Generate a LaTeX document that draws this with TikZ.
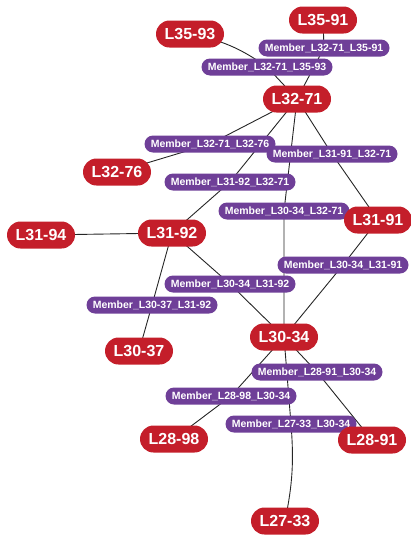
\documentclass[tikz,border=0pt]{standalone}
\usepackage{fontspec}
\setmainfont{Liberation Sans}
\definecolor{nred}{HTML}{C41E2A}
\definecolor{npur}{HTML}{6F3F98}
\pgfdeclarelayer{bg}
\pgfsetlayers{bg,main}
\begin{document}
\begin{tikzpicture}[x=1pt,y=-1pt,
  lnode/.style={fill=nred, text=white, font=\fontsize{16}{16}\selectfont\bfseries,
    rounded corners=13.5pt, minimum width=68pt, minimum height=27pt, inner sep=0pt},
  mnode/.style={fill=npur, text=white, font=\fontsize{10.5}{10.5}\selectfont\bfseries,
    rounded corners=8.5pt, minimum width=131pt, minimum height=17pt, inner sep=0pt},
  conn/.style={draw=black!85, line width=0.9pt}]
\useasboundingbox (0,0) rectangle (411,536);
% member nodes
\node[mnode] (m1) at (324,48) {Member\_L32-71\_L35-91};
\node[mnode] (m2) at (267,67) {Member\_L32-71\_L35-93};
\node[mnode] (m3) at (210,144) {Member\_L32-71\_L32-76};
\node[mnode] (m4) at (332,154) {Member\_L31-91\_L32-71};
\node[mnode] (m5) at (230,182) {Member\_L31-92\_L32-71};
\node[mnode] (m6) at (284,211) {Member\_L30-34\_L32-71};
\node[mnode] (m7) at (343,265) {Member\_L30-34\_L31-91};
\node[mnode] (m8) at (230,284) {Member\_L30-34\_L31-92};
\node[mnode] (m9) at (152,305) {Member\_L30-37\_L31-92};
\node[mnode] (m10) at (317,372) {Member\_L28-91\_L30-34};
\node[mnode] (m11) at (231,396) {Member\_L28-98\_L30-34};
\node[mnode] (m12) at (291,424) {Member\_L27-33\_L30-34};
% line nodes
\node[lnode] (L3593) at (190,34) {L35-93};
\node[lnode] (L3591) at (323,20) {L35-91};
\node[lnode] (L3271) at (297,99) {L32-71};
\node[lnode] (L3276) at (117,172) {L32-76};
\node[lnode] (L3191) at (378,220) {L31-91};
\node[lnode] (L3194) at (41,235) {L31-94};
\node[lnode] (L3192) at (172,233) {L31-92};
\node[lnode] (L3037) at (139,351) {L30-37};
\node[lnode] (L3034) at (284,337) {L30-34};
\node[lnode] (L2898) at (174,439) {L28-98};
\node[lnode] (L2891) at (372,440) {L28-91};
\node[lnode] (L2733) at (285,521) {L27-33};
\begin{pgfonlayer}{bg}
\draw[conn] (L3591.center) -- (m1.center) -- (L3271.center);
\draw[conn] (L3593.center) to[bend left=12] (m2.center) -- (L3271.center);
\draw[conn] (L3271.center) -- (m3.center) -- (L3276.center);
\draw[conn] (L3271.center) -- (m4.center) -- (L3191.center);
\draw[conn] (L3271.center) -- (m5.center) -- (L3192.center);
\draw[conn] (L3271.center) -- (m6.center) -- (L3034.center);
\draw[conn] (L3191.center) -- (m7.center) -- (L3034.center);
\draw[conn] (L3192.center) -- (m8.center) -- (L3034.center);
\draw[conn] (L3192.center) -- (m9.center) -- (L3037.center);
\draw[conn] (L3194.center) -- (L3192.center);
\draw[conn] (L3034.center) -- (m10.center) -- (L2891.center);
\draw[conn] (L3034.center) -- (m11.center) -- (L2898.center);
\draw[conn] (L3034.center) -- (m12.center) to[bend left=8] (L2733.center);
\end{pgfonlayer}
\end{tikzpicture}
\end{document}
